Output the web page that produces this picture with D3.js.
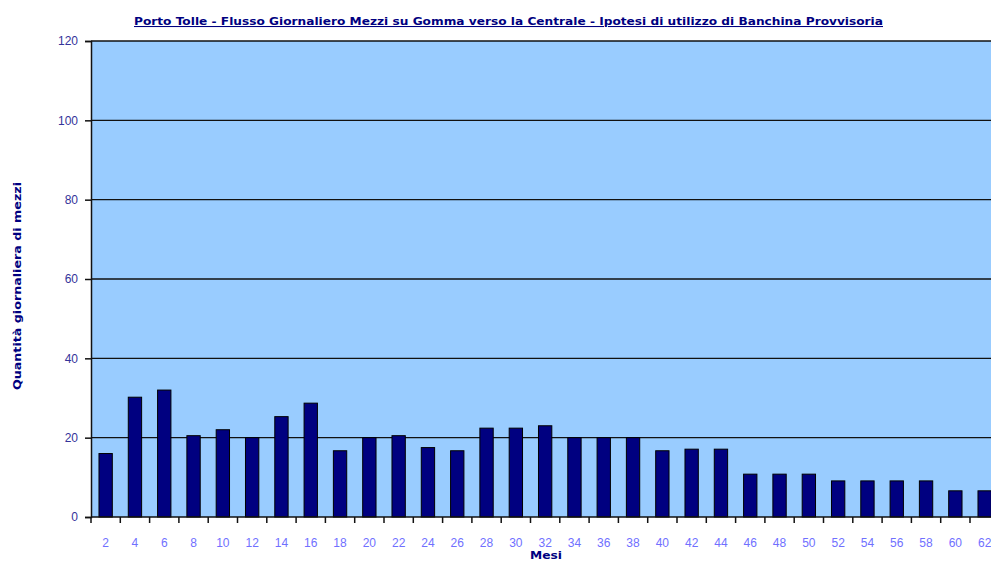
<!DOCTYPE html>
<html>
<head>
<meta charset="utf-8">
<script src="https://cdn.jsdelivr.net/npm/d3@7"></script>
<style>
  html, body { margin: 0; padding: 0; background: #ffffff; overflow: hidden; }
  svg { display: block; font-family: "Liberation Sans", Arial, sans-serif; }
</style>
</head>
<body>
<svg id="chart" width="991" height="561"></svg>
<script>
// Months since start of works (category axis)
const months = [2, 4, 6, 8, 10, 12, 14, 16, 18, 20, 22, 24, 26, 28, 30, 32, 34, 36, 38, 40, 42, 44, 46, 48, 50, 52, 54, 56, 58, 60, 62];
// Daily number of road vehicles towards the power plant
const vehicles = [16, 30.2, 32, 20.5, 22, 20, 25.3, 28.7, 16.7, 20, 20.5, 17.5, 16.7, 22.4, 22.4, 23, 20, 20, 20, 16.7, 17.1, 17.1, 10.8, 10.8, 10.8, 9.1, 9.1, 9.1, 9.1, 6.6, 6.6];
const yTicks = [0, 20, 40, 60, 80, 100, 120];

const titleText = "Porto Tolle - Flusso Giornaliero Mezzi su Gomma verso la Centrale - Ipotesi di utilizzo di  Banchina Provvisoria";
const yTitle = "Quantità giornaliera di mezzi";
const xTitle = "Mesi";

const svg = d3.select("#chart");
const plot = { left: 91, top: 41, bottom: 517, bandW: 29.3 };
plot.right = plot.left + plot.bandW * months.length;

const x = d3.scaleBand()
  .domain(months)
  .range([plot.left, plot.right])
  .paddingInner(0.545)
  .paddingOuter(0.2725);

const y = d3.scaleLinear().domain([0, 120]).range([plot.bottom, plot.top]);

// plot area background
svg.append("rect")
  .attr("x", plot.left).attr("y", plot.top)
  .attr("width", plot.right - plot.left)
  .attr("height", plot.bottom - plot.top)
  .attr("fill", "#99ccff");

// horizontal gridlines
svg.append("g")
  .selectAll("line")
  .data(yTicks.filter(d => d > 0))
  .join("line")
  .attr("x1", plot.left).attr("x2", plot.right)
  .attr("y1", d => y(d)).attr("y2", d => y(d))
  .attr("stroke", "#111")
  .attr("stroke-width", 1.3);

// bars
svg.append("g")
  .selectAll("rect")
  .data(months.map((m, i) => ({ m, v: vehicles[i] })))
  .join("rect")
  .attr("x", d => x(d.m))
  .attr("y", d => y(d.v))
  .attr("width", x.bandwidth())
  .attr("height", d => y(0) - y(d.v))
  .attr("fill", "#000080")
  .attr("stroke", "#000")
  .attr("stroke-width", 1);

// y axis
const yAxis = svg.append("g")
  .attr("transform", `translate(${plot.left},0)`)
  .call(d3.axisLeft(y).tickValues(yTicks).tickSize(6).tickPadding(7).tickFormat(d3.format("d")));
yAxis.select(".domain").attr("stroke", "#111").attr("stroke-width", 1.5);
yAxis.selectAll(".tick line").attr("stroke", "#111").attr("stroke-width", 1.5);
yAxis.selectAll(".tick text")
  .attr("fill", "#33339a")
  .style("font-size", "12px")
  .style("font-family", "'Liberation Sans', Arial, sans-serif");

// x axis: ticks between categories, labels centred on bands
const xg = svg.append("g");
xg.append("line")
  .attr("x1", plot.left).attr("x2", plot.right)
  .attr("y1", plot.bottom).attr("y2", plot.bottom)
  .attr("stroke", "#111").attr("stroke-width", 1.5);
xg.selectAll("line.tk")
  .data(d3.range(months.length + 1))
  .join("line")
  .attr("class", "tk")
  .attr("x1", i => plot.left + i * plot.bandW)
  .attr("x2", i => plot.left + i * plot.bandW)
  .attr("y1", plot.bottom).attr("y2", plot.bottom + 6)
  .attr("stroke", "#111").attr("stroke-width", 1.5);
xg.selectAll("text")
  .data(months)
  .join("text")
  .attr("x", d => x(d) + x.bandwidth() / 2)
  .attr("y", 547)
  .attr("text-anchor", "middle")
  .attr("fill", "#7070ff")
  .style("font-size", "12px")
  .text(d => d);

// title
svg.append("text")
  .attr("x", 134).attr("y", 25)
  .attr("textLength", 749)
  .attr("lengthAdjust", "spacingAndGlyphs")
  .attr("fill", "#000080")
  .style("font-family", "'DejaVu Sans', sans-serif")
  .style("font-size", "10.5px")
  .style("font-weight", "bold")
  .style("text-decoration", "underline")
  .text(titleText);

// axis titles
svg.append("text")
  .attr("transform", "translate(21,390) rotate(-90)")
  .attr("textLength", 208)
  .attr("lengthAdjust", "spacingAndGlyphs")
  .attr("fill", "#000080")
  .style("font-family", "'DejaVu Sans', sans-serif")
  .style("font-size", "10.5px")
  .style("font-weight", "bold")
  .text(yTitle);

svg.append("text")
  .attr("x", 530).attr("y", 559)
  .attr("textLength", 32)
  .attr("lengthAdjust", "spacingAndGlyphs")
  .attr("fill", "#000080")
  .style("font-family", "'DejaVu Sans', sans-serif")
  .style("font-size", "10px")
  .style("font-weight", "bold")
  .text(xTitle);
</script>
</body>
</html>
